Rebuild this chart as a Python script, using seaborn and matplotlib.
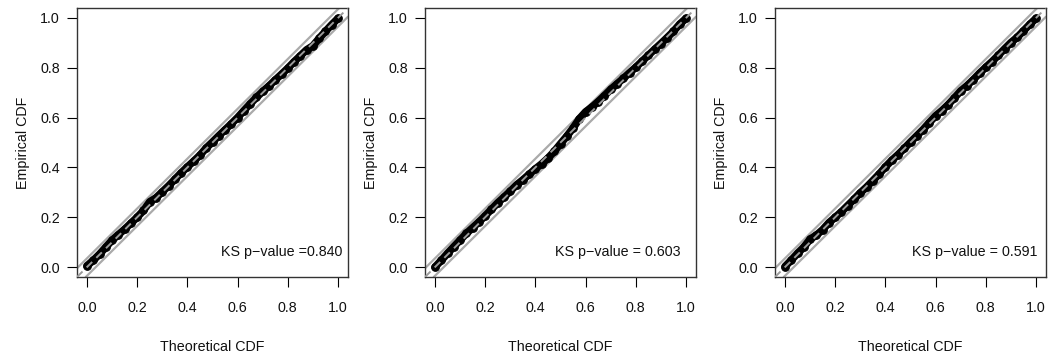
import numpy as np
import pandas as pd
import matplotlib
matplotlib.use("Agg")
import matplotlib.pyplot as plt
import seaborn as sns

# ---- data ----
theoretical = [0.000, 0.025, 0.050, 0.075, 0.100, 0.125, 0.150, 0.175, 0.200, 0.225,
               0.250, 0.275, 0.300, 0.325, 0.350, 0.375, 0.400, 0.425, 0.450, 0.475,
               0.500, 0.525, 0.550, 0.575, 0.600, 0.625, 0.650, 0.675, 0.700, 0.725,
               0.750, 0.775, 0.800, 0.825, 0.850, 0.875, 0.900, 0.925, 0.950, 0.975, 1.000]

empirical_1 = [0.005, 0.027, 0.052, 0.080, 0.108, 0.130, 0.152, 0.176, 0.200, 0.227,
               0.262, 0.278, 0.302, 0.326, 0.352, 0.378, 0.402, 0.425, 0.449, 0.478,
               0.502, 0.527, 0.551, 0.575, 0.600, 0.628, 0.655, 0.681, 0.705, 0.727,
               0.751, 0.774, 0.798, 0.824, 0.848, 0.872, 0.888, 0.918, 0.946, 0.973, 0.998]

empirical_2 = [0.000, 0.027, 0.055, 0.082, 0.108, 0.135, 0.158, 0.181, 0.206, 0.232,
               0.258, 0.281, 0.305, 0.330, 0.350, 0.372, 0.394, 0.414, 0.437, 0.464,
               0.495, 0.525, 0.558, 0.595, 0.623, 0.642, 0.664, 0.688, 0.713, 0.735,
               0.757, 0.780, 0.802, 0.826, 0.850, 0.874, 0.897, 0.921, 0.946, 0.975, 0.998]

empirical_3 = [0.002, 0.028, 0.055, 0.080, 0.112, 0.128, 0.150, 0.178, 0.200, 0.222,
               0.247, 0.272, 0.298, 0.321, 0.347, 0.373, 0.402, 0.428, 0.451, 0.476,
               0.502, 0.527, 0.552, 0.580, 0.607, 0.628, 0.652, 0.679, 0.707, 0.728,
               0.752, 0.778, 0.802, 0.825, 0.850, 0.876, 0.901, 0.922, 0.948, 0.974, 0.998]

ks_labels = ["KS p\u2212value =0.840", "KS p\u2212value = 0.603", "KS p\u2212value = 0.591"]
ks_text_x = [1.016, 0.980, 1.006]
band_halfwidth = 0.035
tick_values = [0.0, 0.2, 0.4, 0.6, 0.8, 1.0]
tick_labels = ["0.0", "0.2", "0.4", "0.6", "0.8", "1.0"]

series = [empirical_1, empirical_2, empirical_3]

# ---- style ----
sns.set_theme(style="white")
plt.rcParams['font.family'] = ['Liberation Sans', 'DejaVu Sans']
plt.rcParams['axes.unicode_minus'] = True

FS = 10.3
fig = plt.figure(figsize=(10.5, 3.58), dpi=100)
lefts = [77 / 1050, 425 / 1050, 775 / 1050]
w = 271 / 1050
b = 1 - 277 / 358
h = 269 / 358

for i, emp in enumerate(series):
    ax = fig.add_axes([lefts[i], b, w, h])
    df = pd.DataFrame({"Theoretical CDF": theoretical, "Empirical CDF": emp})

    # KS confidence band
    ax.axline((0, -band_halfwidth), slope=1, color="#aaaaaa", lw=1.6, zorder=1)
    ax.axline((0, band_halfwidth), slope=1, color="#aaaaaa", lw=1.6, zorder=1)

    sns.lineplot(data=df, x="Theoretical CDF", y="Empirical CDF", ax=ax,
                 color="black", lw=5.5, marker="o", markersize=5.5,
                 markeredgecolor="black", markerfacecolor="black",
                 estimator=None, sort=False, zorder=2)

    ax.axline((0, 0), slope=1, color="#9a9a9a", lw=1.4,
              linestyle=(0, (4, 3)), zorder=3)

    ax.set_xlim(-0.04, 1.04)
    ax.set_ylim(-0.04, 1.04)
    ax.set_xticks(tick_values)
    ax.set_xticklabels(tick_labels)
    ax.set_yticks(tick_values)
    ax.set_yticklabels(tick_labels)
    ax.tick_params(axis="both", which="major", direction="out", length=7.2,
                   width=0.8, color="black", labelsize=FS, labelcolor="#111111",
                   bottom=True, left=True)
    ax.tick_params(axis="x", pad=10)
    ax.tick_params(axis="y", pad=5)
    for s in ax.spines.values():
        s.set_visible(True)
        s.set_color("#333333")
        s.set_linewidth(1.0)

    ax.set_xlabel("Theoretical CDF", fontsize=FS, color="#111111")
    ax.set_ylabel("Empirical CDF", fontsize=FS, color="#111111")
    ax.xaxis.set_label_coords(0.5, -0.234)
    ax.yaxis.set_label_coords(-0.172, 0.5)

    ax.text(ks_text_x[i], 0.06, ks_labels[i], ha="right", va="center",
            fontsize=FS, color="#111111", zorder=4)

fig.savefig("out.png", dpi=100)
